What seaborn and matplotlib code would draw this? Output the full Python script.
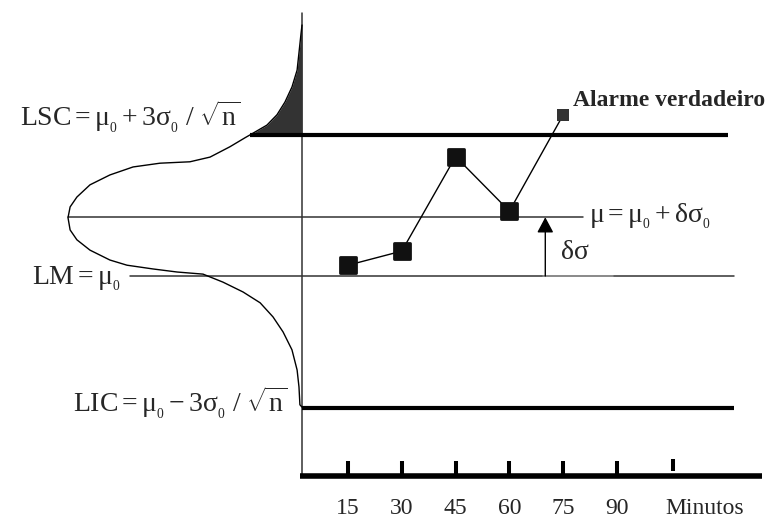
import numpy as np
import matplotlib
matplotlib.use("Agg")
import matplotlib.pyplot as plt
import seaborn as sns

# Subgroup means against sampling time (minutes); levels in units of sigma0/sqrt(n) above mu0
sample_minutes = [15, 30, 45, 60, 75]
sample_levels = [0.23, 0.53, 2.54, 1.38, 3.43]

tick_minutes = [15, 30, 45, 60, 75, 90]
tick_labels = ["15", "30", "45", "60", "75", "90"]
unit_tick_minute = 105.6
unit_label = "Minutos"

center_line = 0.0      # LM = mu0
upper_limit = 3.0      # LSC
lower_limit = -2.8     # LIC
shifted_mean = 1.25    # mu = mu0 + delta*sigma0

# Bell curve of the shifted process, traced as (level, relative height)
curve_levels = [5.34, 5.17, 4.75, 4.38, 4.02, 3.70, 3.43, 3.21, 3.04, 2.94,
                2.75, 2.53, 2.43, 2.40, 2.32, 2.15, 1.94, 1.68, 1.47, 1.24,
                0.98, 0.77, 0.55, 0.34, 0.23, 0.15, 0.085, 0.04, -0.13, -0.34,
                -0.57, -0.87, -1.19, -1.57, -2.00, -2.36, -2.74, -2.79]
curve_heights = [0.000, 0.004, 0.013, 0.021, 0.043, 0.073, 0.107, 0.150, 0.209, 0.244,
                 0.308, 0.393, 0.479, 0.607, 0.722, 0.821, 0.906, 0.962, 0.991, 1.000,
                 0.991, 0.962, 0.906, 0.821, 0.748, 0.637, 0.534, 0.423, 0.338, 0.252,
                 0.179, 0.124, 0.081, 0.043, 0.021, 0.013, 0.009, 0.000]

sns.set_theme(style="white")
plt.rcParams["font.family"] = ["Liberation Serif", "DejaVu Serif"]
plt.rcParams["mathtext.fontset"] = "custom"
plt.rcParams["mathtext.rm"] = "Liberation Serif"
plt.rcParams["mathtext.it"] = "Liberation Serif:italic"
plt.rcParams["mathtext.bf"] = "Liberation Serif:bold"

fig = plt.figure(figsize=(7.76, 5.20), dpi=100)
ax = fig.add_axes([0, 0, 1, 1])
ax.set_xlim(-82.02, 134.32)
ax.set_ylim(-5.191, 5.872)
ax.axis("off")

ink = "#111111"
grey = "#333333"

axis_x = 2.18          # time axis origin (vertical axis position)
curve_width = 65.24    # horizontal extent of the bell curve peak, in minutes
base_level = -4.245    # level of the time axis

# vertical axis
ax.plot([axis_x, axis_x], [base_level, 5.596], color=grey, lw=1.1, zorder=2)

# bell curve and shaded upper tail
lv = np.array(curve_levels)
cx = axis_x - curve_width * np.array(curve_heights)
ax.plot(cx, lv, color="black", lw=1.0, zorder=3)
upper = slice(0, int(np.argmax(lv < upper_limit)))
x_at_lsc = np.interp(upper_limit, lv[::-1], cx[::-1])
tail_lv = np.append(lv[upper], upper_limit)
tail_x = np.append(cx[upper], x_at_lsc)
ax.fill_betweenx(tail_lv, tail_x, axis_x, color=grey, lw=0, zorder=2)
x_peak = cx[int(np.argmax(curve_heights))]

# control limits and reference lines
ax.plot([x_at_lsc, 120.9], [upper_limit] * 2, color="black", lw=3.0,
        solid_capstyle="butt", zorder=4)
ax.plot([x_peak, 80.5], [shifted_mean] * 2, color=grey, lw=1.1, zorder=2)
ax.plot([-45.8, 122.6], [center_line] * 2, color=grey, lw=1.1, zorder=2)
ax.plot([69.4, 88.9], [center_line] * 2, color="#9a9a9a", lw=1.1, zorder=2)
ax.plot([axis_x, 122.6], [lower_limit] * 2, color="black", lw=3.0,
        solid_capstyle="butt", zorder=4)

# time axis with ticks
ax.plot([1.62, 130.4], [base_level] * 2, color="black", lw=4.0,
        solid_capstyle="butt", zorder=4)
ax.vlines(tick_minutes, base_level, -3.936, color="black", lw=2.9, zorder=4)
ax.vlines([unit_tick_minute], -4.149, -3.894, color="black", lw=2.9, zorder=4)
for m, lab in zip(tick_minutes, tick_labels):
    ax.text(m, -5.064, lab, fontsize=17, ha="center", va="baseline")
ax.text(114.5, -5.064, unit_label, fontsize=17, ha="center", va="baseline")

# sample means
sns.lineplot(x=sample_minutes, y=sample_levels, color="black", lw=1.0,
             ax=ax, zorder=5)
sns.scatterplot(x=sample_minutes[:-1], y=sample_levels[:-1], marker="s", s=121,
                color=ink, edgecolor=ink, linewidth=2.0, ax=ax, zorder=6)
ax.collections[-1].set_joinstyle("round")
sns.scatterplot(x=sample_minutes[-1:], y=sample_levels[-1:], marker="s", s=75,
                color=grey, linewidth=0, ax=ax, zorder=6)

# shift arrow
ax.annotate("", xy=(70, shifted_mean), xytext=(70, center_line),
            arrowprops=dict(arrowstyle="-|>,head_length=0.94,head_width=0.5",
                            mutation_scale=10, color="black", lw=1.0,
                            shrinkA=0, shrinkB=0), zorder=5)

# labels
fs = 20
mu0 = r"\mathrm{\mu}_{{}_0}"
sg0 = r"\mathrm{\sigma}_{{}_0}"
ax.text(-76.4, 3.19, rf"$\mathrm{{LSC}} = {mu0} + 3{sg0}\ /\ \sqrt{{\mathrm{{n}}}}$",
        fontsize=fs, ha="left", va="baseline")
ax.text(-73.1, -0.17, rf"$\mathrm{{LM}} = {mu0}$",
        fontsize=fs, ha="left", va="baseline")
ax.text(-61.7, -2.894, rf"$\mathrm{{LIC}} = {mu0} - 3{sg0}\ /\ \sqrt{{\mathrm{{n}}}}$",
        fontsize=fs, ha="left", va="baseline")
ax.text(82.2, 1.149, rf"$\mathrm{{\mu}} = {mu0} + \mathrm{{\delta}}{sg0}$",
        fontsize=fs, ha="left", va="baseline")
ax.text(74.4, 0.36, "δσ", fontsize=fs, ha="left", va="baseline")
ax.text(77.7, 3.617, "Alarme verdadeiro", fontsize=17, fontweight="bold",
        ha="left", va="baseline")

fig.savefig("out.png", dpi=100, facecolor="white")
